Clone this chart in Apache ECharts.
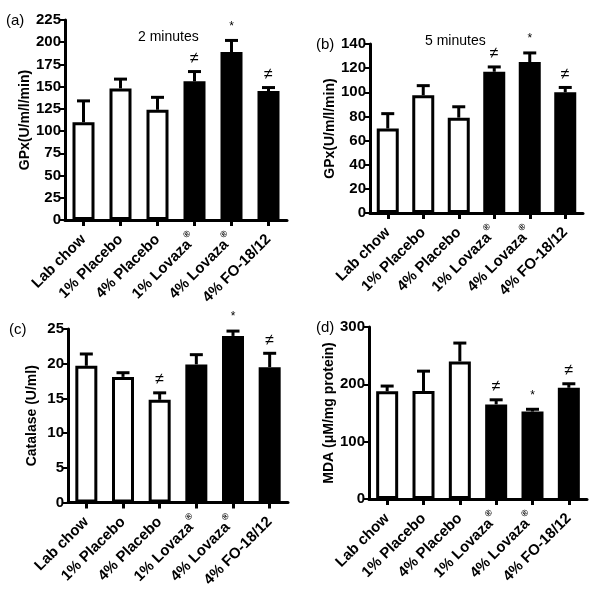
<!DOCTYPE html>
<html><head><meta charset="utf-8">
<script src="https://cdn.jsdelivr.net/npm/echarts@6/dist/echarts.min.js"></script>
<style>html,body{margin:0;padding:0;background:#fff}#c{width:601px;height:590px}</style>
</head><body><div id="c"></div>
<script>
const categories = ['Lab chow', '1% Placebo', '4% Placebo', '1% Lovaza®', '4% Lovaza®', '4% FO-18/12'];

const gpx2Mean = [110, 148, 124, 156, 189, 145];
const gpx2Err  = [134, 158.5, 138, 167, 202, 149];
const gpx2Sig  = ['', '', '', '≠', '*', '≠'];

const gpx5Mean = [70, 97.5, 79, 117, 125, 100];
const gpx5Err  = [82.3, 105.5, 88, 121, 132.6, 104];
const gpx5Sig  = ['', '', '', '≠', '*', '≠'];

const catMean = [19.7, 18.1, 14.8, 19.9, 24.0, 19.5];
const catErr  = [21.4, 18.7, 15.8, 21.3, 24.7, 21.5];
const catSig  = ['', '', '≠', '', '*', '≠'];

const mdaMean = [188, 188.5, 240, 165, 152.5, 194];
const mdaErr  = [197, 223, 272, 173, 156.5, 201];
const mdaSig  = ['', '', '', '≠', '*', '≠'];

const yTicksA = {min: 0, max: 225, interval: 25};
const yTicksB = {min: 0, max: 140, interval: 20};
const yTicksC = {min: 0, max: 25, interval: 5};
const yTicksD = {min: 0, max: 300, interval: 100};

const FONT = '"Liberation Sans", Arial, sans-serif';

const grids = [
  {left: 65, top: 20, width: 222, height: 200},
  {left: 370, top: 44, width: 213, height: 169},
  {left: 68, top: 329, width: 220, height: 178},
  {left: 369, top: 327, width: 218, height: 172}
];

function xAxisFor(i) {
  return {
    type: 'category', gridIndex: i, data: categories,
    axisLine: {show: true, lineStyle: {color: '#000', width: 3}},
    axisTick: {show: true, alignWithLabel: true, length: 6, lineStyle: {color: '#000', width: 3}},
    axisLabel: {
      rotate: 45, margin: 17, color: '#000', fontFamily: FONT, fontWeight: 'bold', fontSize: 15,
      formatter: function (v) {
        if (v.indexOf('®') >= 0) return '{t|' + v.replace('®', '') + '}{r|®}';
        return '{t|' + v + '}';
      },
      rich: {
        t: {fontFamily: FONT, fontWeight: 'bold', fontSize: 15, color: '#000'},
        r: {fontFamily: FONT, fontSize: 9, color: '#000', padding: [0, 0, 14, 1]}
      }
    },
    splitLine: {show: false}
  };
}

function yAxisFor(i, t, name, gap) {
  return {
    type: 'value', gridIndex: i, min: t.min, max: t.max, interval: t.interval,
    name: name, nameLocation: 'middle', nameGap: gap, nameRotate: 90,
    nameTextStyle: {color: '#000', fontFamily: FONT, fontWeight: 'bold', fontSize: 14},
    axisLine: {show: true, lineStyle: {color: '#000', width: 3}},
    axisTick: {show: true, length: 5, lineStyle: {color: '#000', width: 2}},
    axisLabel: {color: '#000', fontFamily: FONT, fontWeight: 'bold', fontSize: 15, margin: 4},
    splitLine: {show: false}
  };
}

function barSeries(i, mean) {
  return {
    type: 'bar', xAxisIndex: i, yAxisIndex: i, barWidth: 22,
    data: mean.map(function (v, k) {
      return {value: v, itemStyle: {color: k < 3 ? '#fff' : '#000', borderColor: '#000', borderWidth: 3}};
    }),
    silent: true, animation: false
  };
}

function errSeries(i, mean, err, sig) {
  return {
    type: 'custom', xAxisIndex: i, yAxisIndex: i, animation: false, silent: true, z: 1,
    data: mean.map(function (v, k) { return [k, v, err[k], sig[k]]; }),
    renderItem: function (params, api) {
      const p0 = api.coord([api.value(0), api.value(1)]);
      const p1 = api.coord([api.value(0), api.value(2)]);
      const s = sig[params.dataIndex];
      const children = [
        {type: 'line', shape: {x1: p0[0], y1: p0[1], x2: p1[0], y2: p1[1]}, style: {stroke: '#000', lineWidth: 3}},
        {type: 'line', shape: {x1: p1[0] - 6.5, y1: p1[1], x2: p1[0] + 6.5, y2: p1[1]}, style: {stroke: '#000', lineWidth: 3}}
      ];
      if (s) {
        children.push({
          type: 'text',
          style: {
            text: s, x: p1[0], y: p1[1] - (s === '*' ? 8 : 5), align: 'center', verticalAlign: 'bottom',
            fontFamily: FONT, fontSize: s === '*' ? 12 : 16, fill: '#000'
          }
        });
      }
      return {type: 'group', children: children};
    }
  };
}

const chart = echarts.init(document.getElementById('c'), null, {renderer: 'canvas'});
chart.setOption({
  animation: false,
  backgroundColor: '#fff',
  grid: grids,
  xAxis: [xAxisFor(0), xAxisFor(1), xAxisFor(2), xAxisFor(3)],
  yAxis: [
    yAxisFor(0, yTicksA, 'GPx(U/m/l/min)', 32),
    yAxisFor(1, yTicksB, 'GPx(U/m/l/min)', 32),
    yAxisFor(2, yTicksC, 'Catalase (U/ml)', 29),
    yAxisFor(3, yTicksD, 'MDA (μM/mg protein)', 31)
  ],
  graphic: [
    {type: 'text', left: 6, top: 13, style: {text: '(a)', fontFamily: FONT, fontSize: 15, fill: '#000'}},
    {type: 'text', left: 316, top: 37, style: {text: '(b)', fontFamily: FONT, fontSize: 15, fill: '#000'}},
    {type: 'text', left: 9, top: 322, style: {text: '(c)', fontFamily: FONT, fontSize: 15, fill: '#000'}},
    {type: 'text', left: 316, top: 320, style: {text: '(d)', fontFamily: FONT, fontSize: 15, fill: '#000'}},
    {type: 'text', left: 138, top: 30, style: {text: '2 minutes', fontFamily: FONT, fontSize: 14, fill: '#000'}},
    {type: 'text', left: 425, top: 34, style: {text: '5 minutes', fontFamily: FONT, fontSize: 14, fill: '#000'}}
  ],
  series: [
    barSeries(0, gpx2Mean), errSeries(0, gpx2Mean, gpx2Err, gpx2Sig),
    barSeries(1, gpx5Mean), errSeries(1, gpx5Mean, gpx5Err, gpx5Sig),
    barSeries(2, catMean), errSeries(2, catMean, catErr, catSig),
    barSeries(3, mdaMean), errSeries(3, mdaMean, mdaErr, mdaSig)
  ]
});
</script>
</body></html>
